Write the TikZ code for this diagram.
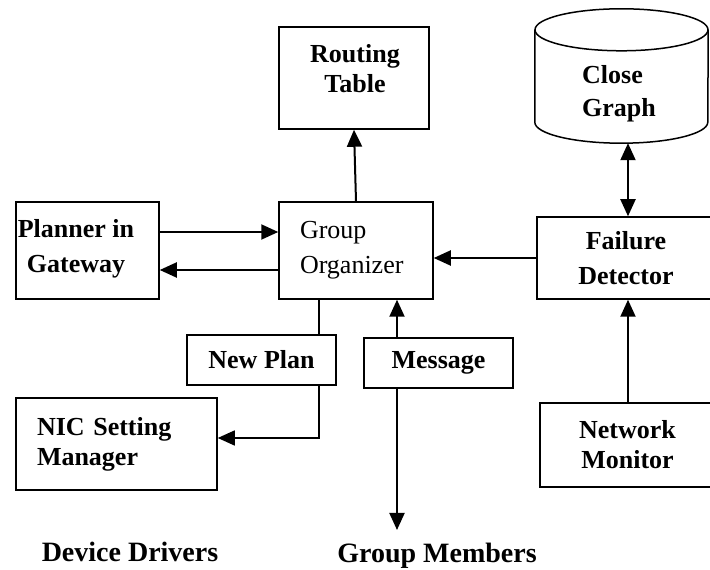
\documentclass[tikz,border=0pt]{standalone}
\usepackage{fontspec}
\setmainfont{Liberation Serif}
\usepackage{tikz}
\usetikzlibrary{arrows.meta, positioning, calc}

\newcommand{\boxfont}{\fontsize{26}{30}\selectfont\bfseries}
\newcommand{\plainfont}{\fontsize{26}{30}\selectfont}
\newcommand{\tagfont}{\fontsize{28}{32}\selectfont\bfseries}

\tikzset{
  block/.style={draw, line width=1.5pt, inner sep=0pt, font=\boxfont, align=center},
  blocktext/.style={inner sep=0pt, font=\boxfont, align=center},
  tag/.style={inner sep=0pt, font=\tagfont},
  arr/.style={line width=2pt, -{Triangle[length=17pt,width=15pt]}},
  arrboth/.style={line width=2pt, {Triangle[length=17pt,width=15pt]}-{Triangle[length=17pt,width=15pt]}},
  link/.style={line width=1.5pt}
}

\begin{document}
\begin{tikzpicture}[x=1pt,y=1pt]
            \clip (0,0) rectangle (710,570);

            % Boxes
            \node[block, minimum width=150pt, minimum height=102pt] (routing) at (354,492) {};
            \node[blocktext, anchor=north] (routingtext) at (355,526) {Routing\\Table};

            \node[block, font=\plainfont, align=left, text width=112pt, inner xsep=21pt, minimum height=97pt] (group) at (356,319.5) {Group\\[5pt]Organizer};

            \node[block, minimum width=143pt, minimum height=97pt] (planner) at (87.5,319.5) {};
            \node[blocktext, anchor=north] (plannertext) at (76,351) {Planner in\\[5pt]Gateway};

            \node[minimum width=173pt, minimum height=134pt, inner sep=0pt] (closeg) at (621.5,494) {};
            \node[blocktext, align=left, anchor=north west] (closetext) at (582,505) {Close\\[3pt]Graph};

            \node[block, minimum width=178pt, minimum height=82pt] (failure) at (626,312) {Failure\\[5pt]Detector};
            \node[block, minimum width=175pt, minimum height=84pt] (netmon) at (627.5,125) {Network\\Monitor};

            \node[block, minimum width=149pt, minimum height=50pt] (newplan) at (261.5,210) {New Plan};
            \node[block, minimum width=149pt, minimum height=50pt] (message) at (438.5,207) {Message};

            \node[block, align=left, text width=159pt, inner xsep=21pt, minimum height=92pt] (nic) at (116.5,126) {NIC Setting\\Manager};

            % Cylinder for the graph store
            \draw[link] ([yshift=-21pt]closeg.north west) -- ([yshift=21pt]closeg.south west)
                arc[start angle=180, end angle=360, x radius=86.5pt, y radius=21pt]
                -- ([yshift=-21pt]closeg.north east);
            \draw[link] ([yshift=-21pt]closeg.north) ellipse [x radius=86.5pt, y radius=21pt];

            % Bottom labels
            \node[tag, anchor=base] (drivers) at (130,8) {Device Drivers};
            \node[tag, anchor=base] (members) at (437,7) {Group Members};
            \coordinate (memberstip) at (397,40);

            % Connectors
            \draw[arr] (group.north) -- (routing.south);
            \draw[arr] ([yshift=18.5pt]planner.east) -- ([yshift=18.5pt]group.west);
            \draw[arr] ([yshift=-19.5pt]group.west) -- ([yshift=-19.5pt]planner.east);
            \draw[arr] (failure.west) -- (failure.west -| group.east);
            \draw[arrboth] ([xshift=2pt]failure.north) -- ([xshift=2pt]failure.north |- closeg.south);
            \draw[arr] ([xshift=0.5pt]netmon.north) -- ([xshift=0.5pt]netmon.north |- failure.south);

            \draw[link] ([xshift=57.5pt]newplan.north) -- ([xshift=57.5pt]newplan.north |- group.south);
            \draw[arr, line width=1.5pt] ([xshift=57.5pt]newplan.south) |- ([yshift=6pt]nic.east);

            \draw[arr] ([xshift=-41.5pt]message.north) -- ([xshift=-41.5pt]message.north |- group.south);
            \draw[arr] ([xshift=-41.5pt]message.south) -- (memberstip);
        \end{tikzpicture}
\end{document}
